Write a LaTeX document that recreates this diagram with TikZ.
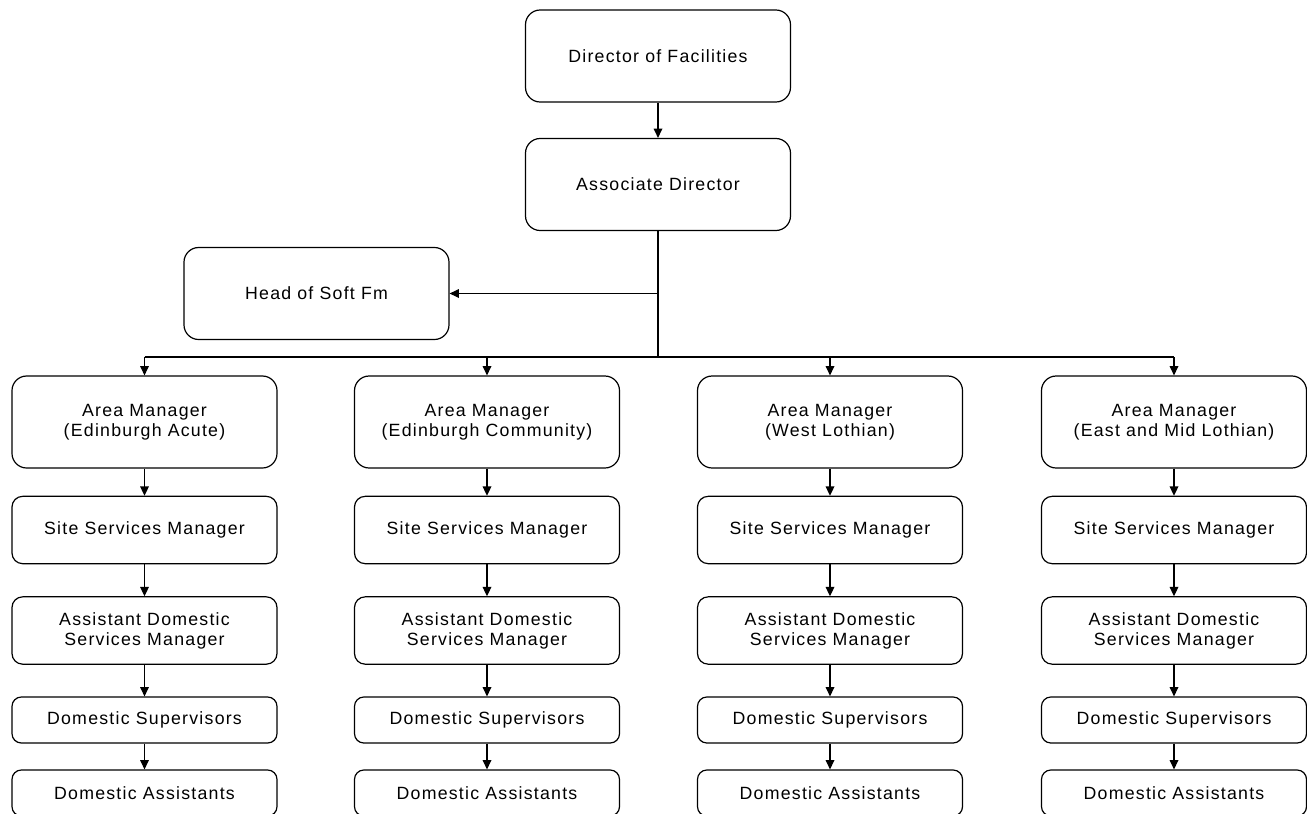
\documentclass[tikz,border=0pt]{standalone}
\usepackage{fontspec}
\setmainfont{Liberation Sans}[LetterSpace=7]
\usetikzlibrary{arrows.meta}

\tikzset{
  orgbox/.style={draw, rounded corners=11pt, minimum width=198.75pt, inner sep=0.75pt,
    align=center, font=\fontsize{13.3}{15}\selectfont},
  tallbox/.style={orgbox, minimum height=69pt},
  midbox/.style={orgbox, rounded corners=8pt, minimum height=50.5pt},
  lowbox/.style={orgbox, rounded corners=7pt, minimum height=34.5pt},
}

\begin{document}
\begin{tikzpicture}[x=0.75pt,y=0.75pt,yscale=-1,xscale=1,line width=0.9pt,
    >={Triangle[length=7pt,width=6.5pt]}]
    \useasboundingbox (0,0) rectangle (1307,814);

    % Top of the chart
    \node [tallbox] (dof) at (658,56) {Director of Facilities};
    \node [tallbox] (ad) at (658,184.5) {Associate Director};
    \node [tallbox] (hsf) at (316.5,293.5) {Head of Soft Fm};

    % Area managers
    \node [tallbox] (am1) at (144.5,422) {Area Manager\\(Edinburgh Acute)};
    \node [tallbox] (am2) at (487,422) {Area Manager\\(Edinburgh Community)};
    \node [tallbox] (am3) at (830,422) {Area Manager\\(West Lothian)};
    \node [tallbox] (am4) at (1174,422) {Area Manager\\(East and Mid Lothian)};

    % Site services managers
    \node [midbox] (ssm1) at (144.5,530) {Site Services Manager};
    \node [midbox] (ssm2) at (487,530) {Site Services Manager};
    \node [midbox] (ssm3) at (830,530) {Site Services Manager};
    \node [midbox] (ssm4) at (1174,530) {Site Services Manager};

    % Assistant domestic services managers
    \node [midbox] (adsm1) at (144.5,630.5) {Assistant Domestic\\Services Manager};
    \node [midbox] (adsm2) at (487,630.5) {Assistant Domestic\\Services Manager};
    \node [midbox] (adsm3) at (830,630.5) {Assistant Domestic\\Services Manager};
    \node [midbox] (adsm4) at (1174,630.5) {Assistant Domestic\\Services Manager};

    % Supervisors
    \node [lowbox] (ds1) at (144.5,720) {Domestic Supervisors};
    \node [lowbox] (ds2) at (487,720) {Domestic Supervisors};
    \node [lowbox] (ds3) at (830,720) {Domestic Supervisors};
    \node [lowbox] (ds4) at (1174,720) {Domestic Supervisors};

    % Assistants
    \node [lowbox] (da1) at (144.5,793) {Domestic Assistants};
    \node [lowbox] (da2) at (487,793) {Domestic Assistants};
    \node [lowbox] (da3) at (830,793) {Domestic Assistants};
    \node [lowbox] (da4) at (1174,793) {Domestic Assistants};

    % Connectors
    \coordinate (side) at (658,293.5);
    \coordinate (bus) at (658,357);
    \draw [->] (dof) -- (ad);
    \draw (ad) -- (bus);
    \draw [->] (side) -- (hsf.east);
    \draw (bus -| am1) -- (bus -| am4);
    \draw [->] (bus -| am1) -- (am1);
    \draw [->] (bus -| am2) -- (am2);
    \draw [->] (bus -| am3) -- (am3);
    \draw [->] (bus -| am4) -- (am4);

    \draw [->] (am1) -- (ssm1);
    \draw [->] (am2) -- (ssm2);
    \draw [->] (am3) -- (ssm3);
    \draw [->] (am4) -- (ssm4);
    \draw [->] (ssm1) -- (adsm1);
    \draw [->] (ssm2) -- (adsm2);
    \draw [->] (ssm3) -- (adsm3);
    \draw [->] (ssm4) -- (adsm4);
    \draw [->] (adsm1) -- (ds1);
    \draw [->] (adsm2) -- (ds2);
    \draw [->] (adsm3) -- (ds3);
    \draw [->] (adsm4) -- (ds4);
    \draw [->] (ds1) -- (da1);
    \draw [->] (ds2) -- (da2);
    \draw [->] (ds3) -- (da3);
    \draw [->] (ds4) -- (da4);

\end{tikzpicture}
\end{document}
